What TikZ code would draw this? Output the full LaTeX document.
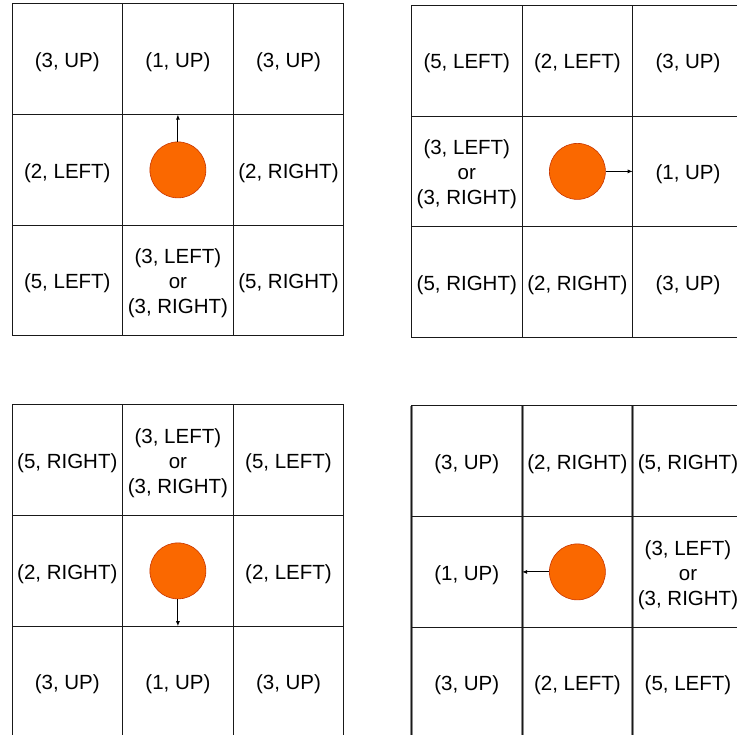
\documentclass[tikz,border=0pt]{standalone}
\usepackage{fontspec}
\setmainfont{Liberation Sans}
\usetikzlibrary{arrows.meta}
\definecolor{ofill}{HTML}{FA6800}
\definecolor{ostroke}{HTML}{C73500}
\newcommand\gcell[5][cell]{\node[#1, label={[lab]center:{#5}}] (#2) at (#3,#4) {};}
\begin{document}
\begin{tikzpicture}[x=1pt,y=-1pt,
  cell/.style={draw=black!90, line width=1pt, minimum width=110.6pt, minimum height=110.6pt, inner sep=0pt, outer sep=0pt},
  lab/.style={align=center, inner sep=0pt, yshift=-2.8pt, font=\fontsize{20.5}{25}\selectfont},
  ball/.style={circle, fill=ofill, draw=ostroke, line width=0.6pt, minimum size=56pt, inner sep=0pt},
  greyline/.style={draw=black!45, line width=3pt},
  arr/.style={-{Latex[length=5pt,width=4pt]}, line width=0.9pt, black}]
\useasboundingbox (0,0) rectangle (737,735);
\clip (0,0) rectangle (737,735);
% top-left grid
\gcell{tl11}{67.3}{59.3}{(3, UP)}
\gcell{tl12}{177.9}{59.3}{(1, UP)}
\gcell{tl13}{288.5}{59.3}{(3, UP)}
\gcell{tl21}{67.3}{169.9}{(2, LEFT)}
\gcell{tl22}{177.9}{169.9}{}
\gcell{tl23}{288.5}{169.9}{(2, RIGHT)}
\gcell{tl31}{67.3}{280.5}{(5, LEFT)}
\gcell{tl32}{177.9}{280.5}{(3, LEFT)\\or\\(3, RIGHT)}
\gcell{tl33}{288.5}{280.5}{(5, RIGHT)}
\node[ball] (btl) at (177.9,169.9) {};
\draw[arr] (btl.north) -- (tl12.south);
% top-right grid
\gcell{tr11}{466.8}{60.8}{(5, LEFT)}
\gcell{tr12}{577.4}{60.8}{(2, LEFT)}
\gcell{tr13}{688.0}{60.8}{(3, UP)}
\gcell{tr21}{466.8}{171.4}{(3, LEFT)\\or\\(3, RIGHT)}
\gcell{tr22}{577.4}{171.4}{}
\gcell{tr23}{688.0}{171.4}{(1, UP)}
\gcell{tr31}{466.8}{282.0}{(5, RIGHT)}
\gcell{tr32}{577.4}{282.0}{(2, RIGHT)}
\gcell{tr33}{688.0}{282.0}{(3, UP)}
\node[ball] (btr) at (577.4,171.4) {};
\draw[arr] (btr.east) -- (tr23.west);
% bottom-left grid
\gcell{bl11}{67.3}{460.3}{(5, RIGHT)}
\gcell{bl12}{177.9}{460.3}{(3, LEFT)\\or\\(3, RIGHT)}
\gcell{bl13}{288.5}{460.3}{(5, LEFT)}
\gcell{bl21}{67.3}{570.9}{(2, RIGHT)}
\gcell{bl22}{177.9}{570.9}{}
\gcell{bl23}{288.5}{570.9}{(2, LEFT)}
\gcell{bl31}{67.3}{681.5}{(3, UP)}
\gcell{bl32}{177.9}{681.5}{(1, UP)}
\gcell{bl33}{288.5}{681.5}{(3, UP)}
\node[ball] (bbl) at (177.9,570.9) {};
\draw[arr] (bbl.south) -- (bl32.north);
% bottom-right grid (doubled vertical rules)
\coordinate (v1t) at (411.5,406); \coordinate (v1b) at (411.5,735);
\coordinate (v2t) at (522.1,406); \coordinate (v2b) at (522.1,735);
\coordinate (v3t) at (632.7,406); \coordinate (v3b) at (632.7,735);
\draw[greyline] (v1t) -- (v1b);
\draw[greyline] (v2t) -- (v2b);
\draw[greyline] (v3t) -- (v3b);
\gcell{br11}{466.8}{461.3}{(3, UP)}
\gcell{br12}{577.4}{461.3}{(2, RIGHT)}
\gcell{br13}{688.0}{461.3}{(5, RIGHT)}
\gcell{br21}{466.8}{571.9}{(1, UP)}
\gcell{br22}{577.4}{571.9}{}
\gcell{br23}{688.0}{571.9}{(3, LEFT)\\or\\(3, RIGHT)}
\gcell{br31}{466.8}{682.5}{(3, UP)}
\gcell{br32}{577.4}{682.5}{(2, LEFT)}
\gcell{br33}{688.0}{682.5}{(5, LEFT)}
\node[ball] (bbr) at (577.4,571.9) {};
\draw[arr] (bbr.west) -- (br21.east);
\end{tikzpicture}
\end{document}
